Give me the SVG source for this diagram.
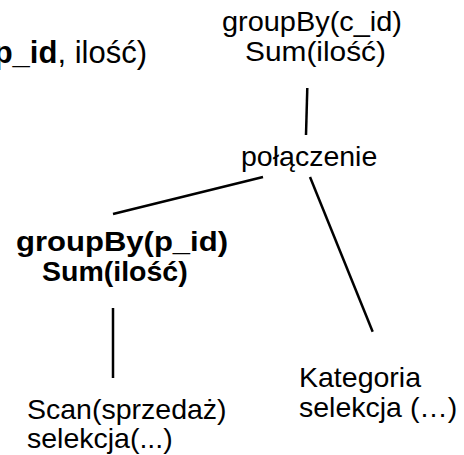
<svg xmlns="http://www.w3.org/2000/svg" width="464" height="455" viewBox="0 0 464 455">
<style>
text{font-family:"Liberation Sans",Arial,sans-serif;font-size:28.5px;fill:#000}
.b{font-weight:bold}
.big{font-size:31px}
.e{stroke:#000;stroke-width:2.5;fill:none}
</style>
<rect width="464" height="455" fill="#fff"/>
<g id="label-top-left"><text class="big" x="147" y="63" text-anchor="end"><tspan class="b">p_id</tspan>, ilość)</text></g>
<g id="node-groupby-c"><text x="222" y="31" textLength="180" lengthAdjust="spacingAndGlyphs">groupBy(c_id)</text><text x="245" y="61" textLength="141" lengthAdjust="spacingAndGlyphs">Sum(ilość)</text></g>
<g id="node-join"><text x="241" y="166">połączenie</text></g>
<g id="node-groupby-p"><text class="b" x="16" y="251" textLength="212" lengthAdjust="spacingAndGlyphs">groupBy(p_id)</text><text class="b" x="42" y="281">Sum(ilość)</text></g>
<g id="node-scan"><text x="27" y="419">Scan(sprzedaż)</text><text x="27" y="448">selekcja(...)</text></g>
<g id="node-kategoria"><text x="299" y="387">Kategoria</text><text x="299" y="417">selekcja (…)</text></g>
<g id="connectors">
<line class="e" x1="307.3" y1="88" x2="306" y2="135"/>
<line class="e" x1="263" y1="177" x2="113" y2="214"/>
<line class="e" x1="310" y1="177" x2="372.7" y2="331.7"/>
<line class="e" x1="113" y1="308" x2="113" y2="378"/>
</g>
</svg>
